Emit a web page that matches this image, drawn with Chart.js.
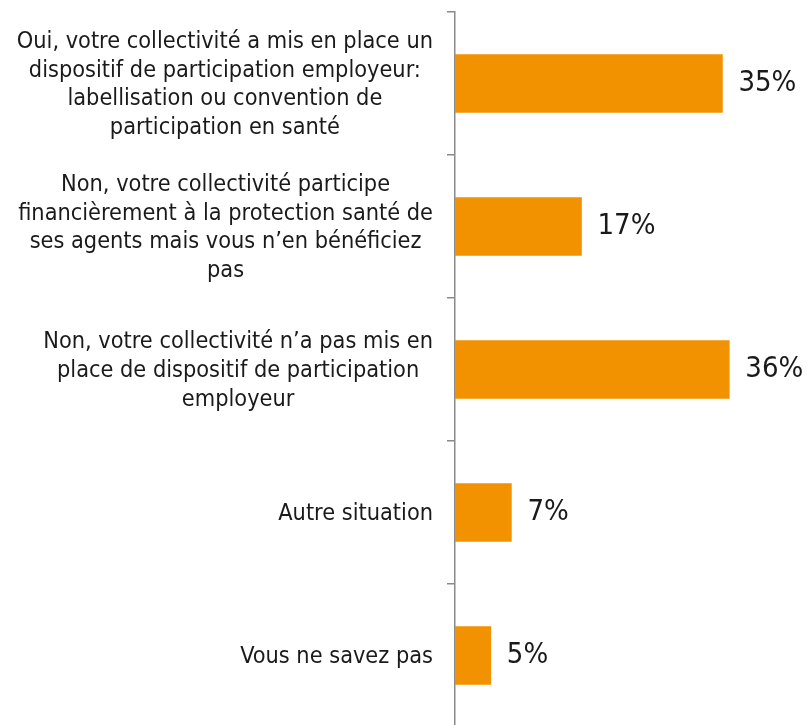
<!DOCTYPE html>
<html>
<head>
<meta charset="utf-8">
<script src="https://cdn.jsdelivr.net/npm/chart.js@4.4.1/dist/chart.umd.min.js"></script>
<style>
html,body{margin:0;padding:0;background:#fff;overflow:hidden;}
#wrap{width:807px;height:727px;}
</style>
</head>
<body>
<div id="wrap"><canvas id="c" width="807" height="727"></canvas></div>
<script>
// ---- data ----
const categories = [
  ["Oui, votre collectivité a mis en place un", "dispositif de participation employeur:", "labellisation ou convention de", "participation en santé"],
  ["Non, votre collectivité participe", "financièrement à la protection santé de", "ses agents mais vous n’en bénéficiez", "pas"],
  ["Non, votre collectivité n’a pas mis en", "place de dispositif de participation", "employeur"],
  ["Autre situation"],
  ["Vous ne savez pas"]
];
const values = [35.1, 16.6, 36.0, 7.4, 4.7];
const valueLabels = ["35%", "17%", "36%", "7%", "5%"];

const FONT = "'DejaVu Sans Condensed', 'DejaVu Sans', sans-serif";

const catLabelPlugin = {
  id: 'catLabels',
  afterDraw(chart) {
    const ctx = chart.ctx;
    const ys = chart.scales.y;
    const right = chart.chartArea.left - 22;
    ctx.save();
    ctx.font = "23.3px " + FONT;
    ctx.fillStyle = "#1a1a1a";
    ctx.textAlign = "center";
    ctx.textBaseline = "middle";
    const lh = 28.7;
    categories.forEach((lines, i) => {
      const cy = ys.getPixelForValue(i) + 1.5;
      let w = 0;
      lines.forEach(l => { w = Math.max(w, ctx.measureText(l).width); });
      const cx = right - w / 2;
      const y0 = cy - (lines.length - 1) * lh / 2;
      lines.forEach((l, j) => ctx.fillText(l, cx, y0 + j * lh));
    });
    ctx.restore();
  }
};

const valueLabelPlugin = {
  id: 'valLabels',
  afterDatasetsDraw(chart) {
    const ctx = chart.ctx;
    const meta = chart.getDatasetMeta(0);
    ctx.save();
    ctx.font = "29px " + FONT;
    ctx.fillStyle = "#1a1a1a";
    ctx.textAlign = "left";
    ctx.textBaseline = "middle";
    meta.data.forEach((bar, i) => {
      ctx.fillText(valueLabels[i], bar.x + 16, bar.y);
    });
    ctx.restore();
  }
};

new Chart(document.getElementById('c'), {
  type: 'bar',
  data: {
    labels: categories,
    datasets: [{
      data: values,
      backgroundColor: '#F39200',
      borderWidth: 0,
      barThickness: 58
    }]
  },
  options: {
    indexAxis: 'y',
    responsive: false,
    animation: false,
    layout: { padding: { left: 447, top: 12, right: 0, bottom: 0 } },
    plugins: { legend: { display: false }, tooltip: { enabled: false } },
    scales: {
      x: { display: false, min: 0, max: 46.2 },
      y: {
        ticks: { display: false },
        grid: { display: true, drawOnChartArea: false, drawTicks: true, tickLength: 8, color: '#8a8a8a', lineWidth: 1.5, offset: true },
        border: { display: true, color: '#8a8a8a', width: 1.5 }
      }
    }
  },
  plugins: [catLabelPlugin, valueLabelPlugin]
});
</script>
</body>
</html>
